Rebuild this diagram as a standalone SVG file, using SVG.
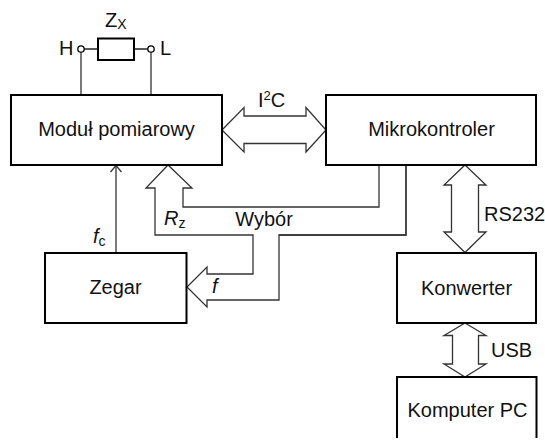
<svg xmlns="http://www.w3.org/2000/svg" width="545" height="441" viewBox="0 0 545 441">
<style>
.box{fill:#fff;stroke:#000;stroke-width:2}
.lbl{font-family:"Liberation Sans",Arial,sans-serif;font-size:20px;fill:#111}
.c{fill:none;stroke:#333;stroke-width:1.3;stroke-linejoin:miter}
.w{fill:#fff;stroke:#333;stroke-width:1.3}
</style>
<rect width="545" height="441" fill="#fff"/>
<g id="connectors">
  <line class="c" x1="81" y1="52" x2="81" y2="95"/>
  <line class="c" x1="151" y1="52" x2="151" y2="95"/>
  <polygon class="w" points="222,130 244,107.5 244,116 306,116 306,107.5 326,130 306,152 306,143.5 244,143.5 244,152"/>
  <path class="c" d="M379,165 V207 H183 V188 H192 L168,165 L146,188 H155 V235 H253 V274 H207 V267 L187,287 L207,307 V300 H279 V235 H406 V165"/>
  <path class="c" d="M279,235 H406 V165" stroke-width="2"/>
  <line class="c" x1="116" y1="253" x2="116" y2="166"/>
  <path class="c" d="M110.5,172 L116,165.5 L121.5,172"/>
  <polygon class="w" points="465,165 486,185 478.5,185 478.5,232 486,232 465,252.5 444,232 451.5,232 451.5,185 444,185"/>
  <polygon class="w" points="465,323 486,335.5 478.5,335.5 478.5,364 486,364 465,377 444,364 452.5,364 452.5,335.5 444,335.5"/>
  <text class="lbl" x="258" y="107">I<tspan font-size="13" dy="-7">2</tspan><tspan dy="7">C</tspan></text>
  <text class="lbl" x="264" y="226" text-anchor="middle">Wybór</text>
  <text class="lbl" x="484" y="221">RS232</text>
  <text class="lbl" x="491" y="357">USB</text>
  <text class="lbl" x="93" y="243" font-style="italic">f<tspan font-size="14" font-style="normal" dy="3">c</tspan></text>
  <text class="lbl" x="164" y="225" font-style="italic">R<tspan font-size="14" font-style="normal" dy="3">z</tspan></text>
  <text class="lbl" x="212" y="293" font-style="italic">f</text>
</g>
<g id="impedance">
  <circle cx="81" cy="49" r="3.2" fill="#fff" stroke="#000" stroke-width="1.3"/>
  <circle cx="151" cy="49" r="3.2" fill="#fff" stroke="#000" stroke-width="1.3"/>
  <line x1="84.2" y1="49" x2="98" y2="49" stroke="#000" stroke-width="1.3"/>
  <line x1="134" y1="49" x2="147.8" y2="49" stroke="#000" stroke-width="1.3"/>
  <rect class="box" x="98" y="38.5" width="36" height="21.5"/>
  <text class="lbl" x="59" y="55">H</text>
  <text class="lbl" x="160" y="55">L</text>
  <text class="lbl" x="105" y="27">Z<tspan font-size="14" dy="2">X</tspan></text>
</g>
<g id="modul">
  <rect class="box" x="11" y="95" width="211" height="70"/>
  <text class="lbl" x="116.5" y="136" text-anchor="middle">Moduł pomiarowy</text>
</g>
<g id="mikrokontroler">
  <rect class="box" x="326" y="95" width="210" height="70"/>
  <text class="lbl" x="431.5" y="136" text-anchor="middle">Mikrokontroler</text>
</g>
<g id="zegar">
  <rect class="box" x="45" y="253" width="141.5" height="70"/>
  <text class="lbl" x="115.5" y="294" text-anchor="middle">Zegar</text>
</g>
<g id="konwerter">
  <rect class="box" x="397" y="253" width="139" height="70"/>
  <text class="lbl" x="466.5" y="295" text-anchor="middle">Konwerter</text>
</g>
<g id="komputer">
  <path d="M397,438 V377 H536.5 V438" fill="#fff" stroke="#000" stroke-width="2"/>
  <text class="lbl" x="467.5" y="417" text-anchor="middle">Komputer PC</text>
</g>
</svg>
